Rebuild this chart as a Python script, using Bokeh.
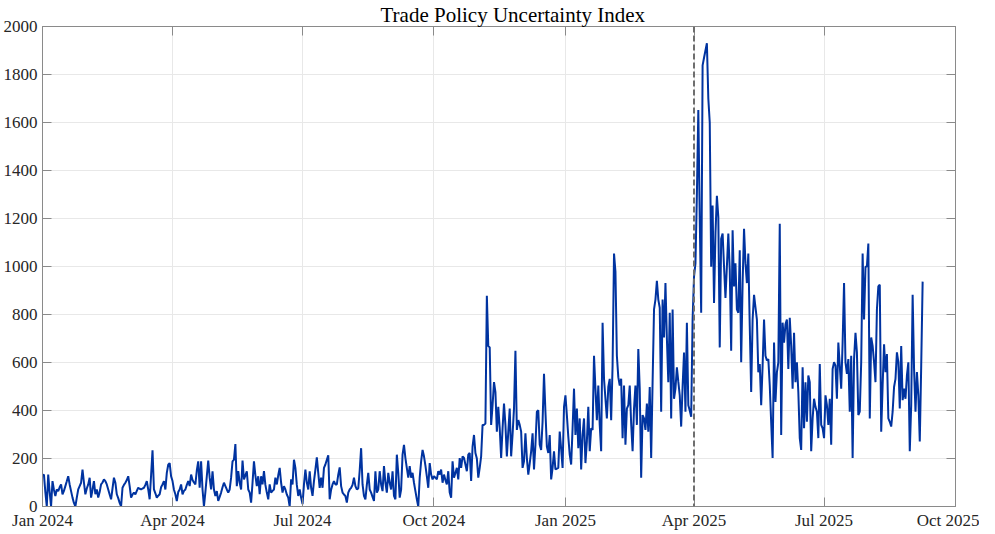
import pandas as pd
from bokeh.plotting import figure
from bokeh.models import Range1d, FixedTicker, Span, DatetimeAxis, LinearAxis, DatetimeTickFormatter
from bokeh.embed import file_html
from bokeh.resources import INLINE

# ---------------- data (daily index, starting 1 Jan 2024) ----------------
start_date = "2024-01-01"

tpu_2024_q1 = [130, 133, 60, 0, 133, 60, 0, 106, 70, 44,
               71, 64, 80, 92, 51, 65, 85, 105, 126, 92,
               64, 37, 15, 0, 37, 71, 85, 99, 154, 100,
               51, 75, 92, 120, 37, 70, 106, 51, 71, 37,
               60, 92, 100, 113, 106, 92, 71, 50, 30, 75,
               120, 99, 51, 35, 15, 0, 78, 90, 99, 110,
               126, 85, 37, 50, 58, 51, 65, 78, 74, 71,
               75, 78, 90, 106, 71, 30, 130, 234, 71, 55,
               37, 45, 51, 80, 92, 106, 71, 140, 174, 181,
               126]
tpu_2024_q2 = [106, 70, 51, 23, 60, 71, 92, 51, 65,
               71, 90, 106, 85, 133, 110, 100, 92, 150, 188,
               78, 188, 71, 0, 60, 126, 191, 120, 71, 147,
               71, 44, 64, 23, 40, 58, 80, 99, 85, 71,
               58, 71, 120, 188, 195, 260, 85, 147, 100, 71,
               191, 113, 130, 147, 71, 58, 16, 99, 188, 130,
               85, 126, 51, 126, 92, 147, 90, 58, 30, 92,
               58, 65, 71, 120, 92, 130, 161, 99, 58, 85,
               71, 50, 37, 0, 113, 92, 195, 161, 90, 44,
               71, 37]
tpu_2024_q3 = [10, 92, 154, 100, 71, 147, 78, 44,
               106, 154, 205, 140, 78, 120, 78, 161, 175, 195,
               213, 30, 70, 92, 106, 92, 92, 133, 163, 85,
               58, 50, 44, 16, 58, 71, 78, 90, 120, 85,
               71, 75, 150, 243, 92, 44, 30, 90, 140, 71,
               58, 40, 23, 147, 58, 71, 147, 92, 64, 168,
               100, 58, 140, 99, 71, 147, 44, 30, 216, 140,
               37, 71, 216, 257, 202, 160, 120, 168, 120, 140,
               99, 64, 30, 0, 120, 188, 236, 209, 170, 126,
               78, 181, 133, 113]
tpu_2024_q4 = [126, 120, 113, 147, 133, 154,
               99, 133, 110, 92, 147, 58, 37, 188, 120, 140,
               161, 113, 202, 161, 209, 202, 175, 147, 216, 223,
               106, 250, 298, 223, 200, 120, 161, 209, 340, 340,
               346, 878, 669, 663, 340, 422, 518, 477, 312, 415,
               326, 202, 326, 429, 340, 209, 312, 408, 209, 300,
               408, 649, 319, 360, 340, 312, 161, 188, 305, 202,
               133, 180, 230, 305, 154, 257, 395, 401, 257, 236,
               353, 553, 395, 250, 223, 298, 113, 161, 230, 154,
               158, 161, 312, 240, 161, 415]
tpu_2025_q1 = [463, 381, 291, 216,
               175, 326, 491, 298, 408, 243, 367, 154, 298, 367,
               181, 271, 415, 230, 326, 319, 628, 491, 360, 504,
               340, 230, 766, 532, 449, 367, 498, 532, 360, 587,
               1054, 979, 628, 539, 504, 532, 284, 504, 257, 408,
               422, 504, 346, 230, 408, 504, 340, 656, 491, 120,
               381, 367, 319, 429, 312, 498, 202, 518, 821, 862,
               940, 862, 828, 395, 862, 704, 931, 700, 518, 807,
               367, 821, 449, 491, 580, 520, 463, 333, 500, 642,
               395, 766, 422, 400, 374, 779]
tpu_2025_q2 = [958, 1013, 1300, 1652,
               1200, 807, 1838, 1870, 1900, 1930, 1700, 1600, 999, 1254,
               848, 1137, 1295, 1206, 663, 1116, 1137, 1000, 869, 1000,
               1137, 986, 649, 1151, 917, 1013, 821, 807, 1068, 601,
               931, 1157, 1013, 931, 1054, 752, 477, 779, 882, 830,
               779, 559, 594, 422, 587, 779, 628, 608, 614, 504,
               350, 202, 683, 436, 559, 600, 1178, 298, 766, 683,
               759, 779, 573, 786, 669, 491, 724, 518, 601, 477,
               285, 236, 580, 326, 518, 353, 546, 518, 230, 367,
               449, 415, 395, 285, 594, 340, 326]
tpu_2025_q3 = [285, 463, 422,
               340, 449, 257, 573, 601, 587, 449, 683, 587, 491,
               683, 931, 601, 553, 614, 395, 628, 202, 614, 724,
               642, 381, 395, 601, 1054, 779, 999, 1000, 1096, 367,
               704, 669, 601, 518, 821, 917, 924, 312, 504, 676,
               560, 635, 367, 353, 333, 395, 498, 532, 642, 601,
               408, 669, 443, 491, 449, 546, 601, 230, 422, 882,
               573, 395, 560, 463, 271, 587, 937]

x_tick_dates = ["2024-01-01", "2024-04-01", "2024-07-01", "2024-10-01",
                "2025-01-01", "2025-04-01", "2025-07-01", "2025-10-01"]
x_tick_labels = ["Jan 2024", "Apr 2024", "Jul 2024", "Oct 2024",
                 "Jan 2025", "Apr 2025", "Jul 2025", "Oct 2025"]
y_ticks = [0, 200, 400, 600, 800, 1000, 1200, 1400, 1600, 1800, 2000]
event_date = "2025-04-01"
title_text = "Trade Policy Uncertainty Index"

# ---------------- build ----------------
values = tpu_2024_q1 + tpu_2024_q2 + tpu_2024_q3 + tpu_2024_q4 + tpu_2025_q1 + tpu_2025_q2 + tpu_2025_q3
dates = pd.date_range(start_date, periods=len(values), freq="D")


def ms(d):
    return float(pd.Timestamp(d).value // 10**6)


x_ticks = [ms(d) for d in x_tick_dates]

FONT = "Liberation Serif"
AX_COLOR = "#8a8a8a"
TXT_COLOR = "#262626"

p = figure(width=979, height=518, x_axis_type="datetime",
           output_backend="svg", toolbar_location=None,
           title=title_text,
           x_range=Range1d(x_ticks[0], x_ticks[-1]),
           y_range=Range1d(y_ticks[0], y_ticks[-1]),
           min_border_left=30, min_border_right=24,
           min_border_top=0, min_border_bottom=0)
p.frame_height = 480

p.background_fill_color = "white"
p.border_fill_color = "white"
p.outline_line_color = AX_COLOR
p.outline_line_width = 1

p.title.text_font = FONT
p.title.text_font_size = "21px"
p.title.text_font_style = "normal"
p.title.text_color = "black"
p.title.text_line_height = 0.85
p.title.align = "left"
p.title.standoff = 0
p.title.offset = 338

xt = FixedTicker(ticks=x_ticks)
yt = FixedTicker(ticks=y_ticks)

xa = p.xaxis[0]
xa.ticker = xt
xa.formatter = DatetimeTickFormatter(months="%b %Y", days="%b %Y", years="%b %Y")
xa.major_label_overrides = {t: lab for t, lab in zip(x_ticks, x_tick_labels)}
ya = p.yaxis[0]
ya.ticker = yt

for ax in (xa, ya):
    ax.axis_line_color = AX_COLOR
    ax.major_tick_line_color = AX_COLOR
    ax.major_tick_in = 9
    ax.major_tick_out = 0
    ax.minor_tick_line_color = None
    ax.major_label_text_font = FONT
    ax.major_label_text_font_size = "17px"
    ax.major_label_text_color = TXT_COLOR
xa.major_label_standoff = 4
ya.major_label_standoff = 5

# mirrored ticks on top and right (box); their labels are not drawn
top_ax = DatetimeAxis(ticker=FixedTicker(ticks=x_ticks), major_label_text_font_size="1px",
                      major_label_text_color=None,
                      major_label_standoff=0, axis_line_color=AX_COLOR,
                      major_tick_line_color=AX_COLOR, major_tick_in=9, major_tick_out=0,
                      minor_tick_line_color=None)
right_ax = LinearAxis(ticker=FixedTicker(ticks=y_ticks), major_label_text_font_size="1px",
                      major_label_text_color=None,
                      major_label_standoff=0, axis_line_color=AX_COLOR,
                      major_tick_line_color=AX_COLOR, major_tick_in=9, major_tick_out=0,
                      minor_tick_line_color=None)
p.add_layout(top_ax, "above")
p.add_layout(right_ax, "right")

p.xgrid.ticker = xt
p.ygrid.ticker = yt
p.xgrid.grid_line_color = "#e8e8e8"
p.ygrid.grid_line_color = "#e8e8e8"

p.line(dates, values, line_color="#0033a0", line_width=2)

p.add_layout(Span(location=ms(event_date), dimension="height",
                  line_color="#6e6e6e", line_dash="6 3", line_width=2))

open("out.html", "w").write(file_html(p, INLINE))
